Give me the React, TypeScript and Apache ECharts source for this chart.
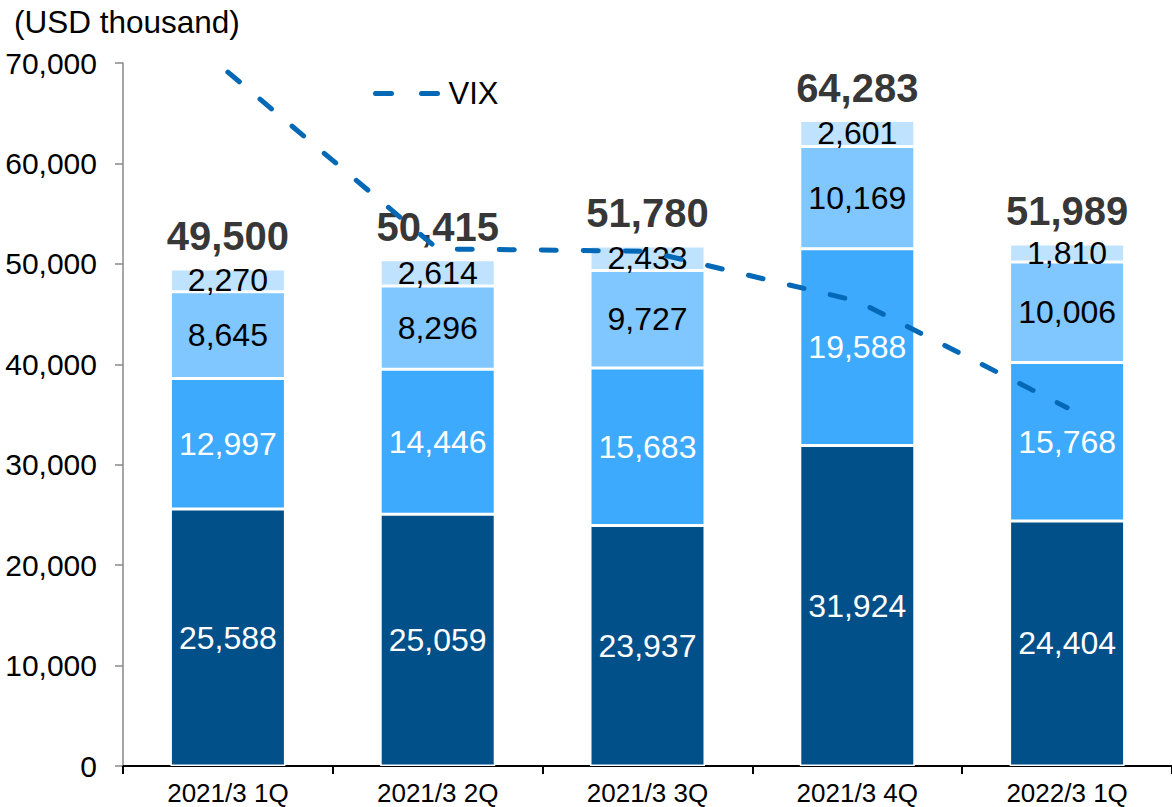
import React, { useEffect, useRef } from "react";
import * as echarts from "echarts";

const categories = ["2021/3 1Q", "2021/3 2Q", "2021/3 3Q", "2021/3 4Q", "2022/3 1Q"];
const seg1 = [25588, 25059, 23937, 31924, 24404];
const seg2 = [12997, 14446, 15683, 19588, 15768];
const seg3 = [8645, 8296, 9727, 10169, 10006];
const seg4 = [2270, 2614, 2433, 2601, 1810];
const totals = [49500, 50415, 51780, 64283, 51989];
const vix = [33.6, 25.8, 25.7, 23.5, 18.8];
const yTicks = [0, 10000, 20000, 30000, 40000, 50000, 60000, 70000];

const colors = ["#02508A", "#3DAAFD", "#80C6FF", "#BFE2FE"];
const labelColors = ["#ffffff", "#ffffff", "#000000", "#000000"];
const FONT = "'Liberation Sans', Arial, sans-serif";

const fmt = (v: number) => v.toLocaleString("en-US");

export default function App() {
  const ref = useRef<HTMLDivElement>(null);
  useEffect(() => {
    if (!ref.current) return;
    const chart = echarts.init(ref.current, null, { renderer: "svg" });
    const segs = [seg1, seg2, seg3, seg4];
    const barSeries = segs.map((d, i) => ({
      type: "bar",
      stack: "total",
      data: d,
      barWidth: 115,
      itemStyle: { color: colors[i], borderColor: "#ffffff", borderWidth: 1.5 },
      label: {
        show: true,
        position: "inside",
        formatter: (p: any) => fmt(p.value),
        color: labelColors[i],
        fontSize: 32,
        fontFamily: FONT,
        textBorderWidth: 0,
      },
      z: 2,
    }));
    chart.setOption({
      animation: false,
      textStyle: { fontFamily: FONT },
      title: {
        text: "(USD thousand)",
        left: 9,
        top: 1,
        textStyle: { fontSize: 31.5, fontWeight: "normal", color: "#000", fontFamily: FONT },
      },
      legend: {
        show: true,
        data: ["VIX"],
        left: 368,
        top: 73,
        itemWidth: 68,
        itemHeight: 14,
        itemGap: 10,
        itemStyle: { color: "rgba(0,0,0,0)", borderWidth: 0, opacity: 0 },
        lineStyle: { color: "#0368B6", width: 5, type: [16, 30], cap: "round" },
        textStyle: { fontSize: 31, color: "#000", fontFamily: FONT },
      },
      grid: { left: 123, right: 0, top: 63, bottom: 41, containLabel: false },
      xAxis: {
        type: "category",
        data: categories,
        axisLine: { lineStyle: { color: "#000", width: 2 } },
        axisTick: { show: true, length: 8, lineStyle: { color: "#000", width: 2 } },
        axisLabel: { fontSize: 26, color: "#000", margin: 14, fontFamily: FONT, interval: 0 },
      },
      yAxis: [
        {
          type: "value",
          min: 0,
          max: 70000,
          interval: 10000,
          axisLine: { show: true, lineStyle: { color: "#888", width: 1.5 } },
          axisTick: { show: true, length: 8, lineStyle: { color: "#888", width: 1.5 } },
          splitLine: { show: false },
          axisLabel: {
            fontSize: 30,
            color: "#000",
            margin: 26,
            fontFamily: FONT,
            formatter: (v: number) => (yTicks.includes(v) ? fmt(v) : ""),
          },
        },
        { type: "value", min: 3, max: 34, show: false, splitLine: { show: false } },
      ],
      series: [
        ...barSeries,
        {
          type: "scatter",
          data: totals,
          symbolSize: 1,
          itemStyle: { color: "rgba(0,0,0,0)" },
          label: {
            show: true,
            position: "top",
            distance: 12,
            formatter: (p: any) => fmt(p.value),
            fontSize: 40,
            fontWeight: "bold",
            color: "#000",
            fontFamily: FONT,
          },
          z: 3,
        },
        {
          name: "VIX",
          type: "line",
          yAxisIndex: 1,
          data: vix,
          symbol: "none",
          lineStyle: { color: "#0368B6", width: 5, type: [15, 27], cap: "round" },
          itemStyle: { color: "#0368B6" },
          z: 5,
        },
      ],
    });
    return () => chart.dispose();
  }, []);
  return (
    <div
      ref={ref}
      style={{ position: "fixed", left: 0, top: 0, width: 1172, height: 807, background: "#fff" }}
    />
  );
}
